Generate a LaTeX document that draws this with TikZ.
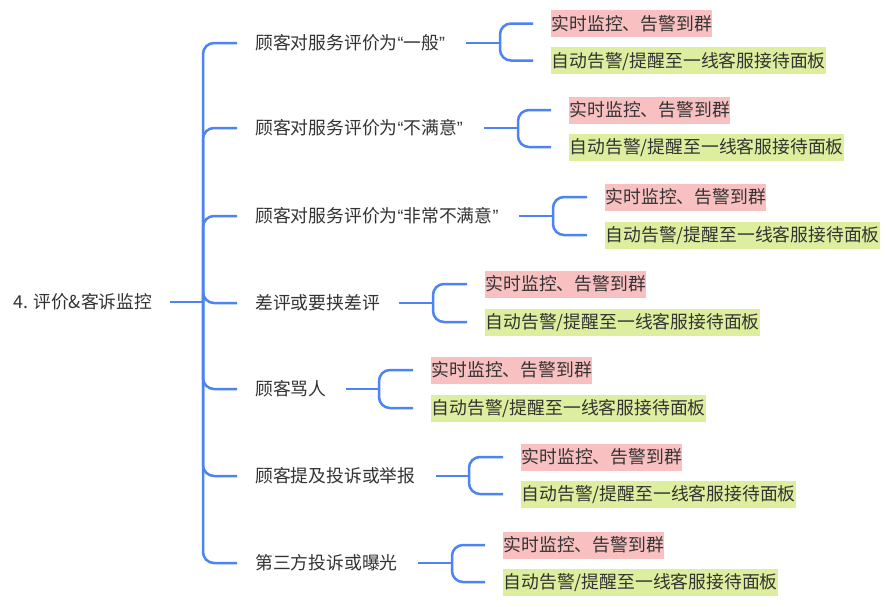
\documentclass[tikz,border=0pt]{standalone}
\usepackage{fontspec}
\setmainfont{Noto Sans CJK SC}
\newfontfamily\quotefont{Liberation Sans}
\newcommand\myLq{{\quotefont “}}
\newcommand\myRq{{\quotefont ”}}
\usetikzlibrary{calc}
\definecolor{linkblue}{RGB}{77,132,245}
\definecolor{txtgray}{RGB}{51,51,51}
\definecolor{pinkfill}{RGB}{248,192,192}
\definecolor{greenfill}{RGB}{221,238,158}
\tikzset{
  conn/.style={draw=linkblue, line width=2.5pt, rounded corners=11pt},
  txt/.style={anchor=west, inner sep=0pt, text=txtgray, font=\fontsize{17.8}{17.8}\selectfont,
    text height=15.7pt, text depth=2.1pt},
  pinkbox/.style={txt, fill=pinkfill, inner xsep=0.5pt, inner ysep=4.6pt},
  greenbox/.style={txt, fill=greenfill, inner xsep=0.5pt, inner ysep=4.6pt},
}
\begin{document}
\begin{tikzpicture}[x=1pt,y=-1pt]
\useasboundingbox[fill=white] (0,0) rectangle (892,606);
% root
\node[txt] (root) at (13,302) {4. 评价\&客诉监控};
\coordinate (r0) at (170,302);
\coordinate (rj) at (203,302);
\draw[conn] (r0) -- (rj);
% children
\node[txt] (c1) at (255,43)  {顾客对服务评价为\myLq 一般\myRq};
\node[txt] (c2) at (255,128) {顾客对服务评价为\myLq 不满意\myRq};
\node[txt] (c3) at (255,216) {顾客对服务评价为\myLq 非常不满意\myRq};
\node[txt] (c4) at (255,303) {差评或要挟差评};
\node[txt] (c5) at (255,389) {顾客骂人};
\node[txt] (c6) at (255,476) {顾客提及投诉或举报};
\node[txt] (c7) at (255,563) {第三方投诉或曝光};
\foreach \c in {c1,c2,c3,c4,c5,c6,c7}{
  \draw[conn] (rj) |- ($(\c.west)+(-18,0)$);
}
% leaves: name, y-top, y-bottom, leaf x, start x, bracket x, centre y
\foreach \n/\yt/\yb/\lx/\sx/\bx/\cy in {
  1/23.5/60.5/551/466/500/43,
  2/110/147/569/484/518/128,
  3/197/235/605/519/553/216,
  4/284/322/485/399/433/303,
  5/370/408/431/346/379/389,
  6/457/494/521/436/469/476,
  7/545/582/503/418/452/563}{
  \node[pinkbox] (p\n) at (\lx,\yt) {实时监控、告警到群};
  \node[greenbox] (g\n) at (\lx,\yb) {自动告警/提醒至一线客服接待面板};
  \coordinate (s\n) at (\sx,\cy);
  \coordinate (b\n) at (\bx,\cy);
  \draw[conn] (s\n) -- (b\n);
  \draw[conn] (b\n) |- ($(p\n.west)+(-18,0)$);
  \draw[conn] (b\n) |- ($(g\n.west)+(-18,0)$);
}
\end{tikzpicture}
\end{document}
